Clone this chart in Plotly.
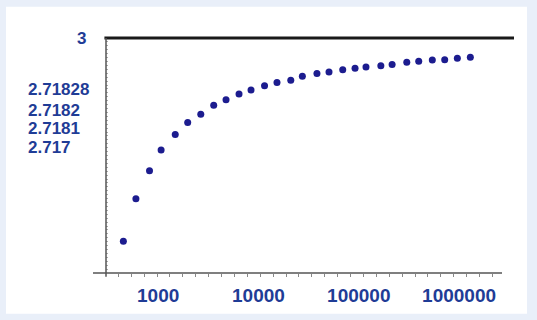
import numpy as np
import plotly.graph_objects as go

# ---- data ----
n_values = [450, 600, 820, 1070, 1480, 1970, 2660, 3580, 4750, 6400,
            8430, 11500, 15300, 21000, 27400, 38300, 50500, 69200, 91800, 118000,
            166000, 215000, 301000, 396000, 541000, 719000, 961000, 1295000]
# heights in the chart's own vertical units (bottom axis = 0, top line "3" = 3)
heights = [0.406, 0.949, 1.306, 1.570, 1.769, 1.921, 2.027, 2.140, 2.212, 2.286,
           2.337, 2.391, 2.432, 2.461, 2.512, 2.547, 2.566, 2.595, 2.614, 2.630,
           2.646, 2.663, 2.691, 2.704, 2.720, 2.723, 2.740, 2.755]

x_tick_vals = [1000, 10000, 100000, 1000000]
x_tick_text = ["1000", "10000", "100000", "1000000"]

y_label_text = ["3", "2.71828", "2.7182", "2.7181", "2.717"]
y_label_pos = [3.0, 2.340, 2.078, 1.842, 1.606]

LABEL = "#1f3c96"
DOT = "#1c1c8f"
FONT = "Liberation Sans, Arial, sans-serif"

fig = go.Figure()
fig.add_trace(go.Scatter(
    x=n_values, y=heights, mode="markers",
    marker=dict(size=7, color=DOT, line=dict(width=0)),
    hoverinfo="skip", showlegend=False,
))

minor_x = list(10 ** np.arange(2.603, 6.40, 0.1286))

fig.update_layout(
    width=537, height=320,
    margin=dict(l=106, r=35, t=38, b=47),
    paper_bgcolor="#e9eff9",
    plot_bgcolor="rgba(0,0,0,0)",
    showlegend=False,
    xaxis=dict(
        type="log", range=[2.480, 6.428],
        showgrid=False, zeroline=False, showline=False,
        tickmode="array", tickvals=x_tick_vals, ticktext=x_tick_text,
        ticks="", ticklabelstandoff=9,
        tickfont=dict(family=FONT, size=19, color=LABEL, weight="bold"),
        minor=dict(tickmode="array", tickvals=minor_x, ticks="outside",
                   ticklen=3, tickwidth=1, tickcolor="#888888", showgrid=False),
    ),
    yaxis=dict(
        range=[0, 3], showgrid=False, zeroline=False, showline=False,
        showticklabels=False, ticks="inside", ticklen=2, tickwidth=1,
        tickcolor="#aaaaaa", tick0=0, dtick=0.05,
    ),
    shapes=[
        # white card behind the chart
        dict(type="rect", xref="paper", yref="paper", x0=-0.2525, x1=1.0631,
             y0=-0.1732, y1=1.1332, fillcolor="#ffffff", line=dict(width=0),
             layer="below"),
        # top line at 3
        dict(type="line", xref="paper", yref="paper", x0=-0.004, x1=1.0303,
             y0=1, y1=1, line=dict(color="#1a1a1a", width=3)),
        # bottom axis
        dict(type="line", xref="paper", yref="paper", x0=-0.0328, x1=1.0,
             y0=0, y1=0, line=dict(color="#555555", width=1.5)),
        # left axis
        dict(type="line", xref="paper", yref="paper", x0=0, x1=0,
             y0=-0.0157, y1=1, line=dict(color="#555555", width=1.5)),
    ],
)

annotations = []
for txt, pos in zip(y_label_text, y_label_pos):
    if txt == "3":
        annotations.append(dict(x=-0.0455, xref="paper", y=pos, yref="y",
                                text=txt, showarrow=False, xanchor="right",
                                yanchor="middle",
                                font=dict(family=FONT, size=17, color=LABEL,
                                          weight="bold")))
    else:
        annotations.append(dict(x=-0.202, xref="paper", y=pos, yref="y",
                                text=txt, showarrow=False, xanchor="left",
                                yanchor="middle",
                                font=dict(family=FONT, size=17, color=LABEL,
                                          weight="bold")))
fig.update_layout(annotations=annotations)

fig.write_html(
    "out.html",
    config={"displayModeBar": False},
    post_script="document.body.style.margin='0';document.body.style.padding='0';",
)
